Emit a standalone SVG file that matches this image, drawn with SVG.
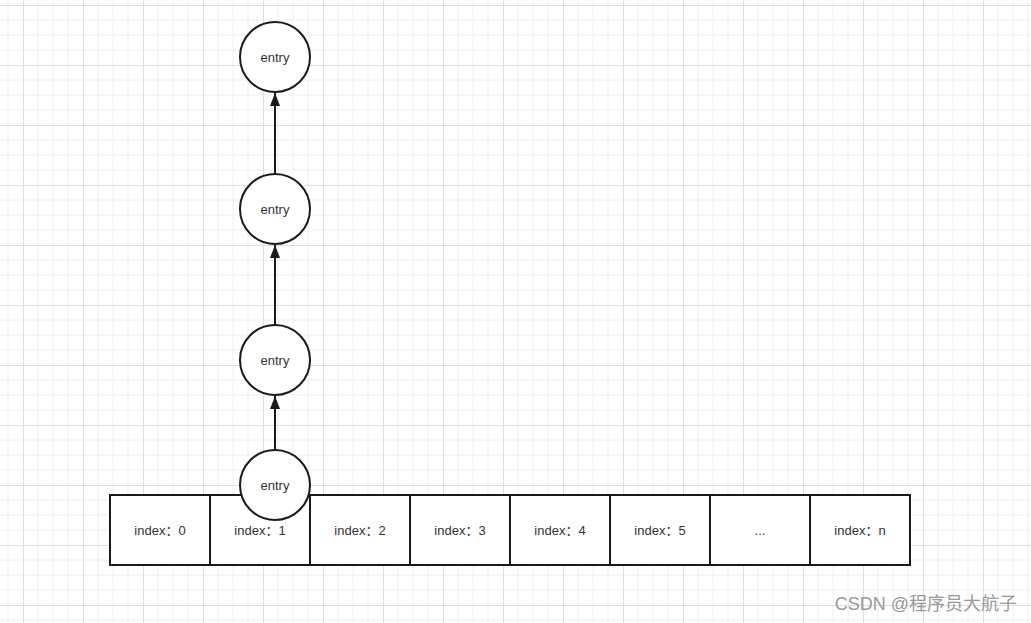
<svg xmlns="http://www.w3.org/2000/svg" width="1031" height="623" viewBox="0 0 1031 623">
<style>
.node{fill:#fff;stroke:#1a1a1a;stroke-width:2}
.lbl{font-family:"Liberation Sans","Noto Sans CJK SC",Arial,sans-serif;font-size:13px;fill:#333;text-anchor:middle;dominant-baseline:central}
.edge{stroke:#1a1a1a;stroke-width:2;fill:none}
</style>
<defs>
<pattern id="grid" x="23" y="5" width="60" height="60" patternUnits="userSpaceOnUse">
<path d="M15 0V60M30 0V60M45 0V60M0 15H60M0 30H60M0 45H60" stroke="#eeeeee" stroke-width="1" fill="none"/>
<path d="M0.5 0V60M0 0.5H60" stroke="#dedede" stroke-width="1" fill="none"/>
</pattern>
<marker id="arr" markerWidth="13" markerHeight="10" refX="13" refY="5" orient="auto" markerUnits="userSpaceOnUse">
<path d="M0 0 L13 5 L0 10 Z" fill="#1a1a1a"/>
</marker>
</defs>
<rect width="1031" height="623" fill="#fff"/>
<rect width="1031" height="623" fill="url(#grid)"/>
<g id="connectors">
<line class="edge" x1="275" y1="450" x2="275" y2="396" marker-end="url(#arr)"/>
<line class="edge" x1="275" y1="325" x2="275" y2="245" marker-end="url(#arr)"/>
<line class="edge" x1="275" y1="174" x2="275" y2="93" marker-end="url(#arr)"/>
</g>
<g id="box0"><rect class="node" x="110" y="495" width="100" height="70"/><text class="lbl" x="160" y="530">index：0</text></g>
<g id="box1"><rect class="node" x="210" y="495" width="100" height="70"/><text class="lbl" x="260" y="530">index：1</text></g>
<g id="box2"><rect class="node" x="310" y="495" width="100" height="70"/><text class="lbl" x="360" y="530">index：2</text></g>
<g id="box3"><rect class="node" x="410" y="495" width="100" height="70"/><text class="lbl" x="460" y="530">index：3</text></g>
<g id="box4"><rect class="node" x="510" y="495" width="100" height="70"/><text class="lbl" x="560" y="530">index：4</text></g>
<g id="box5"><rect class="node" x="610" y="495" width="100" height="70"/><text class="lbl" x="660" y="530">index：5</text></g>
<g id="box6"><rect class="node" x="710" y="495" width="100" height="70"/><text class="lbl" x="760" y="530">...</text></g>
<g id="boxn"><rect class="node" x="810" y="495" width="100" height="70"/><text class="lbl" x="860" y="530">index：n</text></g>
<g id="entry1"><ellipse class="node" cx="275" cy="57" rx="35" ry="35"/><text class="lbl" x="275" y="57">entry</text></g>
<g id="entry2"><ellipse class="node" cx="275" cy="209" rx="35" ry="35"/><text class="lbl" x="275" y="209">entry</text></g>
<g id="entry3"><ellipse class="node" cx="275" cy="360" rx="35" ry="35"/><text class="lbl" x="275" y="360">entry</text></g>
<g id="entry4"><ellipse class="node" cx="275" cy="485" rx="35" ry="35"/><text class="lbl" x="275" y="485">entry</text></g>
<text x="1017" y="610" font-family="'Liberation Sans','Noto Sans CJK SC',sans-serif" font-size="18" fill="#999" text-anchor="end">CSDN @程序员大航子</text>
</svg>
